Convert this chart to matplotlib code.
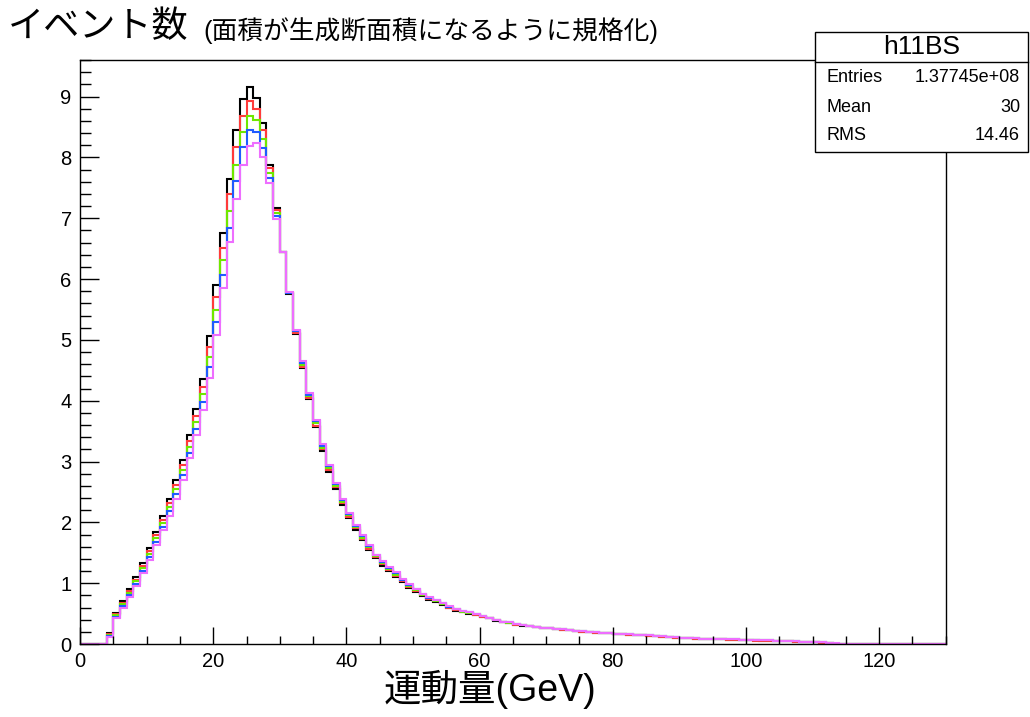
import numpy as np
import matplotlib
matplotlib.use("Agg")
import matplotlib.pyplot as plt
from matplotlib.ticker import MultipleLocator
from matplotlib.patches import Rectangle
from matplotlib.lines import Line2D

plt.rcParams['font.family'] = ['Liberation Sans', 'Noto Sans CJK JP', 'DejaVu Sans']

# momentum histograms, 1 GeV bins from 0 to 130, filled from bin 4 on
bin_edges = np.arange(0, 131, 1)
first_bin = 4

black_vals = [0.18, 0.51, 0.70, 0.90, 1.10, 1.33, 1.58, 1.84, 2.10, 2.39, 2.69, 3.03, 3.43, 3.86, 4.36,
              5.06, 5.90, 6.76, 7.65, 8.45, 8.96, 9.16, 8.98, 8.56, 7.88, 7.17, 6.45,
              5.76, 5.10, 4.53, 4.02, 3.56, 3.17, 2.83, 2.55, 2.29, 2.07, 1.88, 1.71, 1.54, 1.42, 1.29,
              1.20, 1.10, 1.02, 0.92, 0.86, 0.79, 0.73, 0.69, 0.64, 0.59, 0.55, 0.52, 0.50, 0.47, 0.45,
              0.42, 0.38, 0.36, 0.35, 0.32, 0.30, 0.29, 0.275, 0.26,
              0.255, 0.245, 0.235, 0.225, 0.215, 0.205, 0.195, 0.185, 0.18, 0.175, 0.165, 0.16, 0.155,
              0.145, 0.14, 0.135, 0.125, 0.12, 0.115, 0.105, 0.10, 0.095, 0.09, 0.085, 0.08, 0.075,
              0.075, 0.07, 0.07, 0.065, 0.065, 0.06, 0.055, 0.055, 0.05, 0.045, 0.045, 0.04, 0.035,
              0.03, 0.025, 0.02, 0.015, 0.005]
red_vals = [0.17, 0.49, 0.67, 0.87, 1.06, 1.29, 1.53, 1.79, 2.04, 2.32, 2.61, 2.94, 3.33, 3.75, 4.23,
            4.89, 5.70, 6.51, 7.39, 8.17, 8.68, 8.93, 8.80, 8.45, 7.82, 7.13, 6.45,
            5.77, 5.12, 4.56, 4.05, 3.59, 3.20, 2.86, 2.58, 2.32, 2.09, 1.90, 1.73, 1.56, 1.43, 1.31,
            1.22, 1.12, 1.03, 0.94, 0.87, 0.80, 0.74, 0.70, 0.65, 0.60, 0.56, 0.53, 0.51, 0.48, 0.45,
            0.42, 0.39, 0.36, 0.35, 0.32, 0.305, 0.295, 0.28, 0.265,
            0.255, 0.245, 0.235, 0.225, 0.215, 0.205, 0.195, 0.185, 0.18, 0.175, 0.165, 0.16, 0.155,
            0.14, 0.14, 0.135, 0.125, 0.12, 0.11, 0.105, 0.10, 0.095, 0.09, 0.085, 0.08, 0.075,
            0.075, 0.07, 0.07, 0.065, 0.065, 0.055, 0.055, 0.055, 0.05, 0.045, 0.045, 0.04, 0.035,
            0.03, 0.025, 0.02, 0.01, 0.005]
green_vals = [0.15, 0.47, 0.65, 0.84, 1.03, 1.25, 1.48, 1.74, 1.99, 2.25, 2.54, 2.86, 3.24, 3.65, 4.11,
              4.72, 5.49, 6.31, 7.11, 7.88, 8.42, 8.68, 8.62, 8.30, 7.74, 7.09, 6.44,
              5.77, 5.14, 4.59, 4.08, 3.63, 3.23, 2.89, 2.60, 2.34, 2.12, 1.92, 1.75, 1.59, 1.44, 1.33,
              1.24, 1.14, 1.05, 0.95, 0.89, 0.81, 0.75, 0.71, 0.66, 0.61, 0.57, 0.53, 0.51, 0.49, 0.46,
              0.43, 0.39, 0.37, 0.35, 0.33, 0.31, 0.30, 0.28, 0.27,
              0.26, 0.25, 0.24, 0.23, 0.22, 0.21, 0.20, 0.19, 0.185, 0.18, 0.17, 0.165, 0.16,
              0.15, 0.145, 0.14, 0.13, 0.125, 0.12, 0.11, 0.10, 0.10, 0.095, 0.09, 0.085, 0.08,
              0.08, 0.075, 0.075, 0.07, 0.07, 0.065, 0.06, 0.06, 0.055, 0.05, 0.05, 0.045, 0.04,
              0.035, 0.03, 0.025, 0.015, 0.005]
blue_vals = [0.13, 0.45, 0.62, 0.80, 0.99, 1.20, 1.43, 1.68, 1.93, 2.18, 2.46, 2.78, 3.14, 3.54, 3.98,
             4.55, 5.29, 6.06, 6.84, 7.61, 8.17, 8.45, 8.42, 8.15, 7.66, 7.04, 6.44,
             5.77, 5.15, 4.62, 4.10, 3.66, 3.26, 2.92, 2.63, 2.37, 2.14, 1.94, 1.77, 1.61, 1.46, 1.35,
             1.25, 1.16, 1.06, 0.97, 0.90, 0.82, 0.76, 0.72, 0.67, 0.61, 0.57, 0.54, 0.52, 0.49, 0.46,
             0.43, 0.40, 0.37, 0.36, 0.33, 0.31, 0.30, 0.28, 0.27,
             0.26, 0.25, 0.24, 0.23, 0.22, 0.21, 0.20, 0.19, 0.185, 0.18, 0.17, 0.165, 0.16,
             0.15, 0.145, 0.14, 0.13, 0.125, 0.12, 0.11, 0.105, 0.10, 0.095, 0.09, 0.085, 0.08,
             0.08, 0.075, 0.075, 0.07, 0.07, 0.065, 0.06, 0.06, 0.055, 0.05, 0.05, 0.045, 0.04,
             0.035, 0.03, 0.025, 0.02, 0.005]
magenta_vals = [0.12, 0.43, 0.59, 0.77, 0.95, 1.16, 1.38, 1.63, 1.87, 2.11, 2.39, 2.69, 3.05, 3.43, 3.85,
                4.38, 5.08, 5.86, 6.61, 7.32, 7.88, 8.19, 8.24, 8.00, 7.58, 6.99, 6.45,
                5.78, 5.17, 4.65, 4.13, 3.69, 3.29, 2.95, 2.65, 2.39, 2.16, 1.96, 1.79, 1.63, 1.47, 1.37,
                1.27, 1.18, 1.07, 0.98, 0.91, 0.83, 0.77, 0.73, 0.68, 0.62, 0.58, 0.55, 0.52, 0.50, 0.46,
                0.43, 0.40, 0.37, 0.36, 0.33, 0.31, 0.30, 0.28, 0.27,
                0.26, 0.25, 0.24, 0.23, 0.22, 0.21, 0.20, 0.19, 0.185, 0.18, 0.17, 0.165, 0.16,
                0.15, 0.145, 0.14, 0.13, 0.125, 0.12, 0.11, 0.105, 0.10, 0.095, 0.09, 0.085, 0.08,
                0.08, 0.075, 0.075, 0.07, 0.07, 0.065, 0.06, 0.06, 0.055, 0.05, 0.05, 0.045, 0.04,
                0.035, 0.03, 0.025, 0.02, 0.01]

series = [(black_vals, "#000000"),
          (red_vals, "#ff3b3b"),
          (green_vals, "#6fe800"),
          (blue_vals, "#1f5cff"),
          (magenta_vals, "#ee6eff")]

stats_name = "h11BS"
stats_rows = [("Entries", "1.37745e+08"), ("Mean", "30"), ("RMS", "14.46")]

fig = plt.figure(figsize=(10.30, 7.17), dpi=100)
ax = fig.add_axes([0.0777, 0.1018, 0.8405, 0.8145])

for vals, col in series:
    counts = np.zeros(len(bin_edges) - 1)
    counts[first_bin:first_bin + len(vals)] = vals
    ax.stairs(counts, bin_edges, color=col, linewidth=1.5, baseline=None)

ax.set_xlim(0, 130)
ax.set_ylim(0, 9.6)
ax.xaxis.set_major_locator(MultipleLocator(20))
ax.xaxis.set_minor_locator(MultipleLocator(5))
ax.yaxis.set_major_locator(MultipleLocator(1))
ax.yaxis.set_minor_locator(MultipleLocator(0.2))
ax.tick_params(axis='x', which='both', direction='in', top=False, labelsize=14.5, pad=6)
ax.tick_params(axis='y', which='both', direction='in', right=False, labelsize=14.5, pad=6)
ax.tick_params(axis='x', which='major', length=12, width=1)
ax.tick_params(axis='x', which='minor', length=6, width=1)
ax.tick_params(axis='y', which='major', length=14, width=1)
ax.tick_params(axis='y', which='minor', length=8, width=1)
for sp in ax.spines.values():
    sp.set_linewidth(1.0)

# titles
fig.text(0.008, 0.962, "イベント数", fontsize=26, ha='left', va='center')
fig.text(0.197, 0.958, "(面積が生成断面積になるように規格化)", fontsize=18.5, ha='left', va='center')
fig.text(0.476, 0.038, "運動量(GeV)", fontsize=27, ha='center', va='center')

# stats box
bx0, bx1 = 815 / 1030, 1028 / 1030
by_top, by_bot = 1 - 32 / 717, 1 - 152 / 717
by_sep = 1 - 62 / 717
fig.patches.append(Rectangle((bx0, by_bot), bx1 - bx0, by_top - by_bot, transform=fig.transFigure,
                             facecolor='white', edgecolor='black', linewidth=1.0, zorder=5))
fig.lines.append(Line2D([bx0, bx1], [by_sep, by_sep], transform=fig.transFigure,
                        color='black', linewidth=1.0, zorder=6))
fig.text((bx0 + bx1) / 2, 1 - 47 / 717, stats_name, fontsize=19, ha='center', va='center', zorder=7)
for i, (lab, val) in enumerate(stats_rows):
    yy = 1 - (78 + 29 * i) / 717
    fig.text(826 / 1030, yy, lab, fontsize=13, ha='left', va='center', zorder=7)
    fig.text(1020 / 1030, yy, val, fontsize=13, ha='right', va='center', zorder=7)

fig.savefig("out.png", dpi=100)
